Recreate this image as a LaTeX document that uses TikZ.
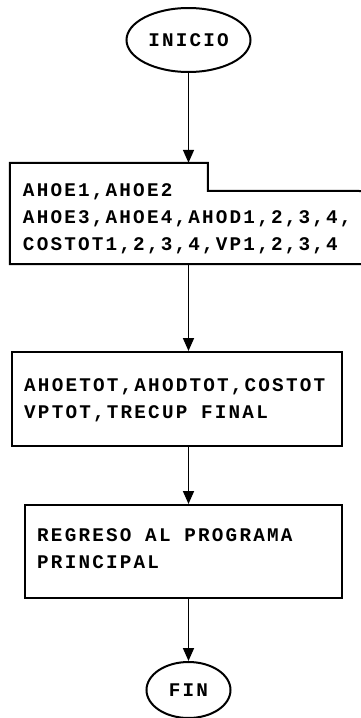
\documentclass[tikz,border=0pt]{standalone}
\usepackage{fontspec}
\usetikzlibrary{arrows.meta,positioning,shapes.geometric,calc}
\newfontfamily\flowfont[LetterSpace=11.4]{Liberation Mono}
\newcommand{\flowsize}{\flowfont\bfseries\fontsize{19.3}{27}\selectfont}
\tikzset{
  >={Triangle[length=13pt,width=11pt]},
  term/.style={ellipse,draw,line width=2pt,inner sep=0pt,font=\flowsize},
  proc/.style={draw,line width=2pt,inner sep=0pt},
  txt/.style={anchor=west,align=left,inner sep=0pt,font=\flowsize},
  flow/.style={->,line width=1.6pt},
}

\begin{document}
\begin{tikzpicture}[x=1pt,y=-1pt]
    \useasboundingbox[fill=white] (0,0) rectangle (360,718);
    % terminals
    \node[term,minimum width=124pt,minimum height=64pt] (inicio) at (188.5,40) {INICIO};
    \node[term,minimum width=84pt,minimum height=56pt] (fin) at (188.5,690) {FIN};
    % display box with the notch
    \node[inner sep=0pt,minimum width=352pt,minimum height=101pt] (datos) at (186,213.5) {};
    \draw[line width=2pt] (datos.north west) -- ++(198,0) -- ++(0,28)
      -- (datos.east |- 0,191) -- (datos.south east) -- (datos.south west) -- cycle;
    \node[txt] (datostxt) at ([xshift=13pt,yshift=-5pt]datos.west)
      {AHOE1,AHOE2\\AHOE3,AHOE4,AHOD1,2,3,4,\\COSTOT1,2,3,4,VP1,2,3,4};
    % process boxes
    \node[proc,minimum width=330pt,minimum height=94pt] (totales) at (177,399) {};
    \node[txt] (totalestxt) at ([xshift=13pt,yshift=-1pt]totales.west)
      {AHOETOT,AHODTOT,COSTOT\\VPTOT,TRECUP FINAL};
    \node[proc,minimum width=317pt,minimum height=93pt] (regreso) at (183.5,551.5) {};
    \node[txt] (regresotxt) at ([xshift=13pt,yshift=3pt]regreso.west)
      {REGRESO AL PROGRAMA\\PRINCIPAL};
    % connectors
    \draw[flow] (inicio.south) -- (inicio.south |- datos.north);
    \draw[flow] (inicio.south |- datos.south) -- (inicio.south |- totales.north);
    \draw[flow] (inicio.south |- totales.south) -- (inicio.south |- regreso.north);
    \draw[flow] (inicio.south |- regreso.south) -- (fin.north);
\end{tikzpicture}
\end{document}
